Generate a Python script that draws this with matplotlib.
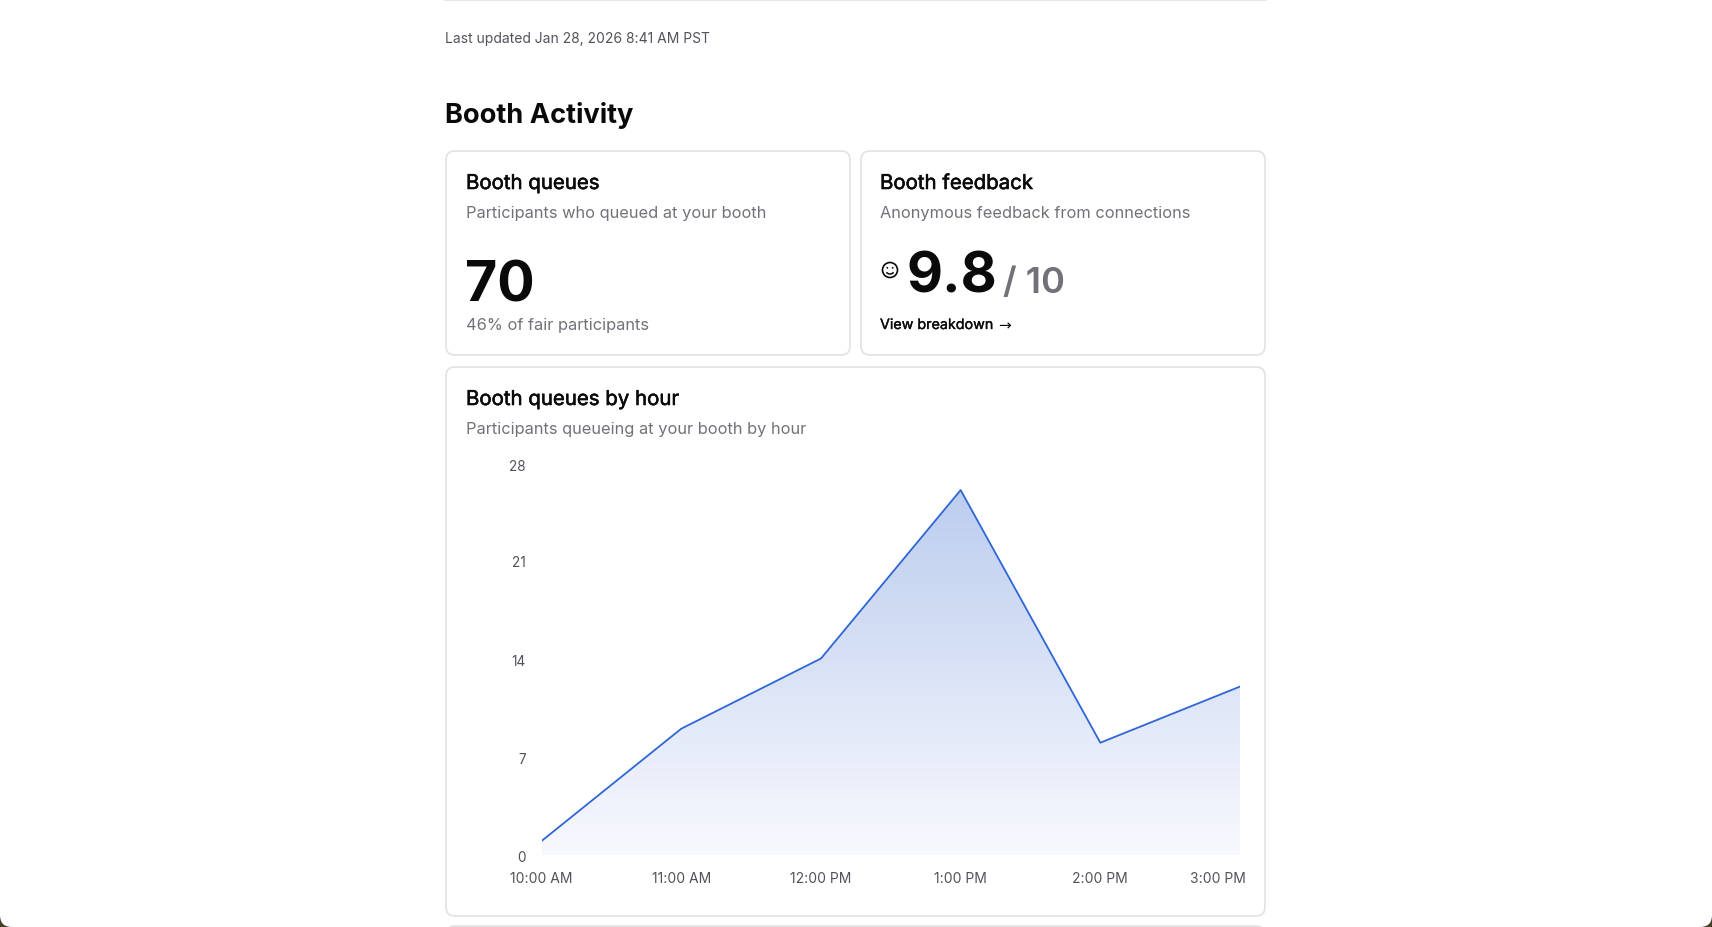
import numpy as np
import matplotlib
matplotlib.use("Agg")
import matplotlib.pyplot as plt
import matplotlib.patheffects as pe
from matplotlib.patches import FancyBboxPatch, Circle, Arc, Polygon

plt.rcParams['font.family'] = ['Inter', 'DejaVu Sans']

# data
hours = ['10:00 AM', '11:00 AM', '12:00 PM', '1:00 PM', '2:00 PM', '3:00 PM']
queues = [1, 9, 14, 26, 8, 12]
y_ticks = [0, 7, 14, 21, 28]

W, H = 1712, 928
fig = plt.figure(figsize=(W / 100, H / 100), dpi=100, facecolor='#45402a')

# page background, pixel coordinates (y goes down)
bg = fig.add_axes([0, 0, 1, 1])
bg.set_xlim(0, W)
bg.set_ylim(H, 0)
bg.axis('off')
bg.add_patch(FancyBboxPatch((0, -60), W, H + 60, boxstyle='round,pad=0,rounding_size=12',
                            fc='white', ec='none'))

BORDER = '#e4e4e7'
DARK = '#0a0a0a'
GRAY = '#71717a'
# Inter has no medium face here, so thicken the regular one a little
MEDIUM = [pe.withStroke(linewidth=0.4, foreground=DARK)]
MEDIUM_SMALL = [pe.withStroke(linewidth=0.25, foreground=DARK)]


def card(x0, y0, x1, y1):
    bg.add_patch(FancyBboxPatch((x0, y0), x1 - x0, y1 - y0,
                                boxstyle='round,pad=0,rounding_size=9',
                                fc='white', ec=BORDER, lw=1.3))


# top divider and cards
bg.plot([445, 1266], [0.5, 0.5], color=BORDER, lw=1.3)
card(446, 152, 850, 356)
card(861, 152, 1265, 356)
card(446, 368, 1265, 917)
card(446, 927, 1265, 1000)

bg.text(445, 43, 'Last updated Jan 28, 2026 8:41 AM PST', fontsize=10, color='#52525b', va='baseline')
bg.text(445, 123, 'Booth Activity', fontsize=19.6, fontweight='bold', color=DARK, va='baseline')

# card 1
bg.text(466, 190, 'Booth queues', fontsize=14.7, color=DARK, va='baseline', path_effects=MEDIUM)
bg.text(466, 218, 'Participants who queued at your booth', fontsize=11.8, color=GRAY, va='baseline')
bg.text(465, 302, '70', fontsize=40, fontweight='bold', color=DARK, va='baseline')
bg.text(466, 330, '46% of fair participants', fontsize=11.8, color=GRAY, va='baseline')

# card 2
bg.text(880, 190, 'Booth feedback', fontsize=14.7, color=DARK, va='baseline', path_effects=MEDIUM)
bg.text(880, 218, 'Anonymous feedback from connections', fontsize=11.8, color=GRAY, va='baseline')
bg.add_patch(Circle((890, 271), 7.5, fc='none', ec=DARK, lw=1.2))
bg.add_patch(Circle((887.3, 268.8), 0.9, fc=DARK, ec='none'))
bg.add_patch(Circle((892.7, 268.8), 0.9, fc=DARK, ec='none'))
bg.add_patch(Arc((890, 271.5), 8, 7, theta1=25, theta2=155, ec=DARK, lw=1.1))
bg.text(907, 293, '9.8', fontsize=40, fontweight='bold', color=DARK, va='baseline')
bg.text(1003, 293, '/ 10', fontsize=26, fontweight='semibold', color=GRAY, va='baseline')
bg.text(880, 330, 'View breakdown', fontsize=10.3, color=DARK, va='baseline', path_effects=MEDIUM_SMALL)
bg.text(998, 330, '\u2192', fontsize=11, family='DejaVu Sans', color=DARK, va='baseline')

# card 3
bg.text(466, 406, 'Booth queues by hour', fontsize=14.7, color=DARK, va='baseline', path_effects=MEDIUM)
bg.text(466, 434, 'Participants queueing at your booth by hour', fontsize=11.8, color=GRAY, va='baseline')

# chart
left, right = 541.6, 1240
top, bottom = 463, 856
ax = fig.add_axes([left / W, 1 - bottom / H, (right - left) / W, (bottom - top) / H])
ax.patch.set_alpha(0)
x = np.arange(len(hours))
ax.set_xlim(0, len(hours) - 1)
ax.set_ylim(0, 28)
for s in ax.spines.values():
    s.set_visible(False)
ax.set_xticks([])
ax.set_yticks([])

# gradient area under the line
c0 = np.array(matplotlib.colors.to_rgb('#bccdee'))
c1 = np.array(matplotlib.colors.to_rgb('#f8f9fe'))
t = np.linspace(0, 1, 256)[:, None]
grad = (c0 * (1 - t) + c1 * t)[:, None, :]
img = ax.imshow(grad, extent=[0, len(hours) - 1, 0, max(queues)], aspect='auto',
                origin='upper', zorder=1)
poly = Polygon(np.column_stack([np.r_[x, x[-1], x[0]], np.r_[queues, 0, 0]]),
               closed=True, fc='none', ec='none')
ax.add_patch(poly)
img.set_clip_path(poly)
ax.plot(x, queues, color='#2f66d6', lw=1.3, zorder=2)

span = right - left
px = 28 / (bottom - top)  # data units per pixel on y
for v in y_ticks:
    dy = -4 * px if v == y_ticks[-1] else -2 * px
    ax.text(-16 / span, v + dy, str(v), transform=ax.get_yaxis_transform(),
            ha='right', va='center', fontsize=9.8, color='#52525b')
for i, lab in enumerate(hours):
    ha = 'right' if i == len(hours) - 1 else 'center'
    xx = i + (6 / span * (len(hours) - 1) if i == len(hours) - 1 else 0)
    ax.text(xx, -23 / (bottom - top), lab, transform=ax.get_xaxis_transform(),
            ha=ha, va='center', fontsize=10, color='#52525b')

fig.savefig('out.png', dpi=100, facecolor=fig.get_facecolor())
